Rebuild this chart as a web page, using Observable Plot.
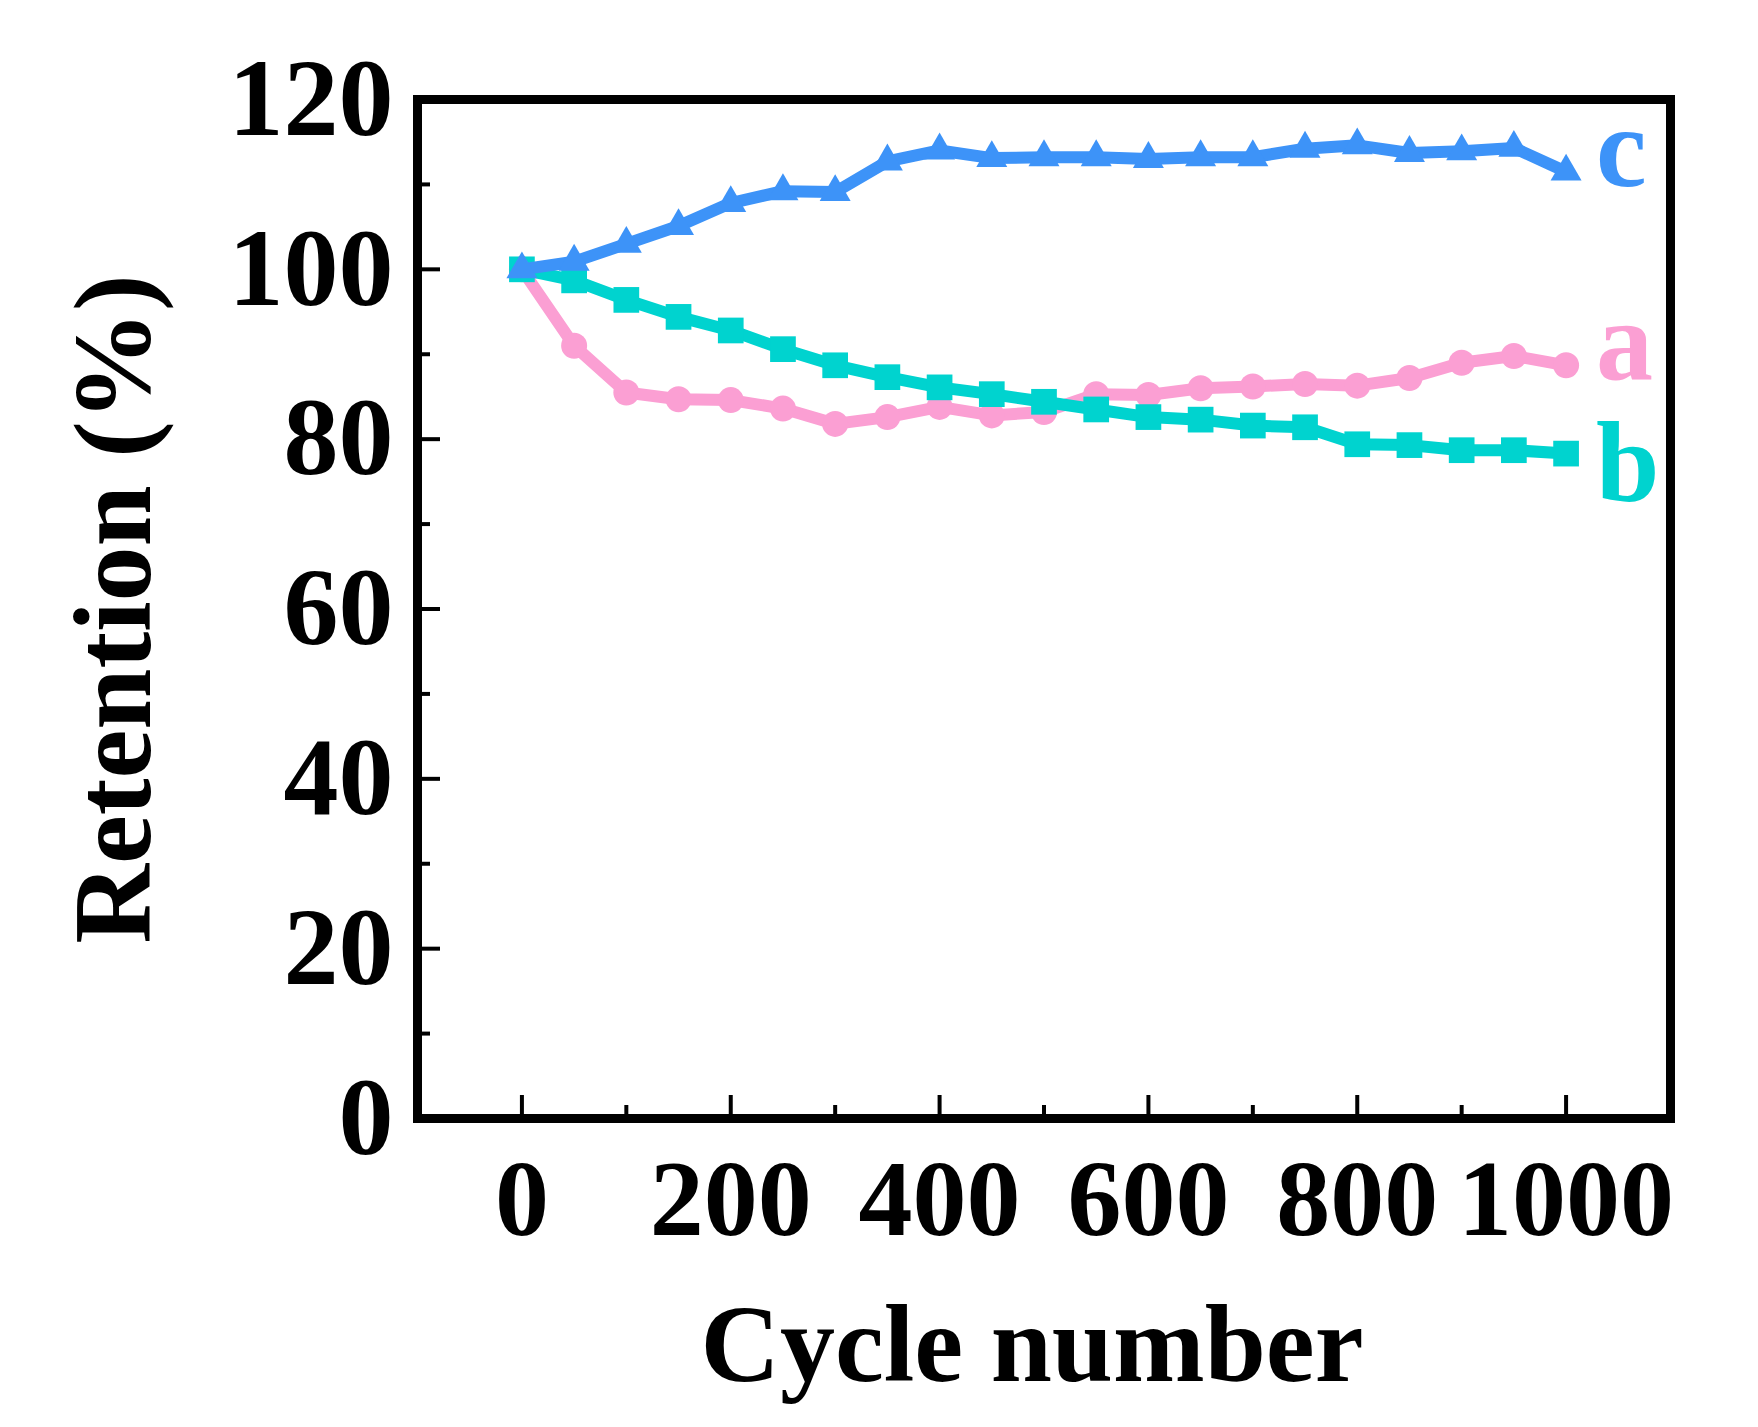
<!DOCTYPE html>
<html>
<head>
<meta charset="utf-8">
<script src="https://cdn.jsdelivr.net/npm/d3@7"></script>
<script src="https://cdn.jsdelivr.net/npm/@observablehq/plot@0.6"></script>
<style>
  html, body { margin: 0; padding: 0; background: #ffffff; }
</style>
</head>
<body>
<div id="chart"></div>
<script>
// ---- data ----
const cycles = [0, 50, 100, 150, 200, 250, 300, 350, 400, 450, 500, 550, 600, 650, 700, 750, 800, 850, 900, 950, 1000];
const seriesA = [100, 91.0, 85.5, 84.7, 84.6, 83.6, 81.8, 82.6, 83.8, 82.8, 83.2, 85.3, 85.2, 86.0, 86.2, 86.5, 86.3, 87.2, 89.0, 89.8, 88.7];
const seriesB = [100, 98.7, 96.4, 94.4, 92.8, 90.6, 88.7, 87.3, 86.1, 85.3, 84.4, 83.5, 82.6, 82.3, 81.6, 81.4, 79.4, 79.3, 78.7, 78.7, 78.3];
const seriesC = [100, 100.9, 103.0, 105.1, 107.8, 109.2, 109.1, 112.7, 114.0, 113.1, 113.2, 113.2, 113.0, 113.2, 113.2, 114.2, 114.6, 113.7, 113.9, 114.3, 111.5];
const seriesNames = ["a", "b", "c"];
const seriesColors = ["#fb9fd3", "#00d3cf", "#3d93f8"];
const xMajorTicks = [0, 200, 400, 600, 800, 1000];
const xMinorTicks = [100, 300, 500, 700, 900];
const yMajorTicks = [0, 20, 40, 60, 80, 100, 120];
const yMinorTicks = [10, 30, 50, 70, 90, 110];
const xTitle = "Cycle number";
const yTitle = "Retention (%)";

// ---- layout ----
const W = 1758, H = 1427;
const mL = 417, mR = 88, mT = 99, mB = 309;
const innerW = W - mL - mR, innerH = H - mT - mB;
const font = '"Liberation Serif", "Times New Roman", serif';

const rows = (name, vals) => cycles.map((c, i) => ({cycle: c, retention: vals[i], series: name}));
const dataA = rows(seriesNames[0], seriesA);
const dataB = rows(seriesNames[1], seriesB);
const dataC = rows(seriesNames[2], seriesC);

const lineW = 12;

const chart = Plot.plot({
  width: W,
  height: H,
  marginLeft: mL,
  marginRight: mR,
  marginTop: mT,
  marginBottom: mB,
  x: {domain: [-100, 1100]},
  y: {domain: [0, 120]},
  style: {fontFamily: font, fontWeight: "bold", background: "#ffffff", color: "#000000", overflow: "visible"},
  marks: [
    // series a (pink circles)
    Plot.line(dataA, {x: "cycle", y: "retention", stroke: seriesColors[0], strokeWidth: lineW}),
    Plot.dot(dataA, {x: "cycle", y: "retention", symbol: "circle", r: 13, fill: seriesColors[0], stroke: null}),
    // series b (cyan squares)
    Plot.line(dataB, {x: "cycle", y: "retention", stroke: seriesColors[1], strokeWidth: lineW}),
    Plot.dot(dataB, {x: "cycle", y: "retention", symbol: "square", r: 14.5, fill: seriesColors[1], stroke: null}),
    // series c (blue triangles)
    Plot.line(dataC, {x: "cycle", y: "retention", stroke: seriesColors[2], strokeWidth: lineW}),
    Plot.dot(dataC, {x: "cycle", y: "retention", symbol: "triangle", r: 11.5, fill: seriesColors[2], stroke: null}),

    // end labels
    Plot.text(dataA.slice(-1), {x: "cycle", y: "retention", text: "series", fill: seriesColors[0], fontSize: 114, fontWeight: "bold", textAnchor: "start", lineAnchor: "middle", dx: 30, dy: -23}),
    Plot.text(dataB.slice(-1), {x: "cycle", y: "retention", text: "series", fill: seriesColors[1], fontSize: 114, fontWeight: "bold", textAnchor: "start", lineAnchor: "middle", dx: 30, dy: 11}),
    Plot.text(dataC.slice(-1), {x: "cycle", y: "retention", text: "series", fill: seriesColors[2], fontSize: 114, fontWeight: "bold", textAnchor: "start", lineAnchor: "middle", dx: 30, dy: -22}),

    // inward ticks
    Plot.ruleX(xMajorTicks, {x: d => d, insetTop: innerH - 23, stroke: "#000", strokeWidth: 4}),
    Plot.ruleX(xMinorTicks, {x: d => d, insetTop: innerH - 13, stroke: "#000", strokeWidth: 4}),
    Plot.ruleY(yMajorTicks, {y: d => d, insetRight: innerW - 23, stroke: "#000", strokeWidth: 4}),
    Plot.ruleY(yMinorTicks, {y: d => d, insetRight: innerW - 13, stroke: "#000", strokeWidth: 4}),

    // frame
    Plot.frame({stroke: "#000", strokeWidth: 9}),

    // tick labels
    Plot.axisX(xMajorTicks, {tickSize: 0, tickPadding: 40, fontSize: 108, fontWeight: "bold", tickFormat: "d", label: null}),
    Plot.axisY(yMajorTicks, {tickSize: 0, tickPadding: 24, fontSize: 110, fontWeight: "bold", tickFormat: "d", label: null}),

    // axis titles
    Plot.text([xTitle], {frameAnchor: "bottom", dy: 262, dx: -12, lineAnchor: "bottom", textAnchor: "middle", fontSize: 110, fontWeight: "bold", fill: "#000"}),
    Plot.text([yTitle], {frameAnchor: "left", dx: -268, rotate: -90, lineAnchor: "bottom", textAnchor: "middle", fontSize: 110, fontWeight: "bold", fill: "#000"})
  ]
});

document.getElementById("chart").appendChild(chart);
</script>
</body>
</html>
